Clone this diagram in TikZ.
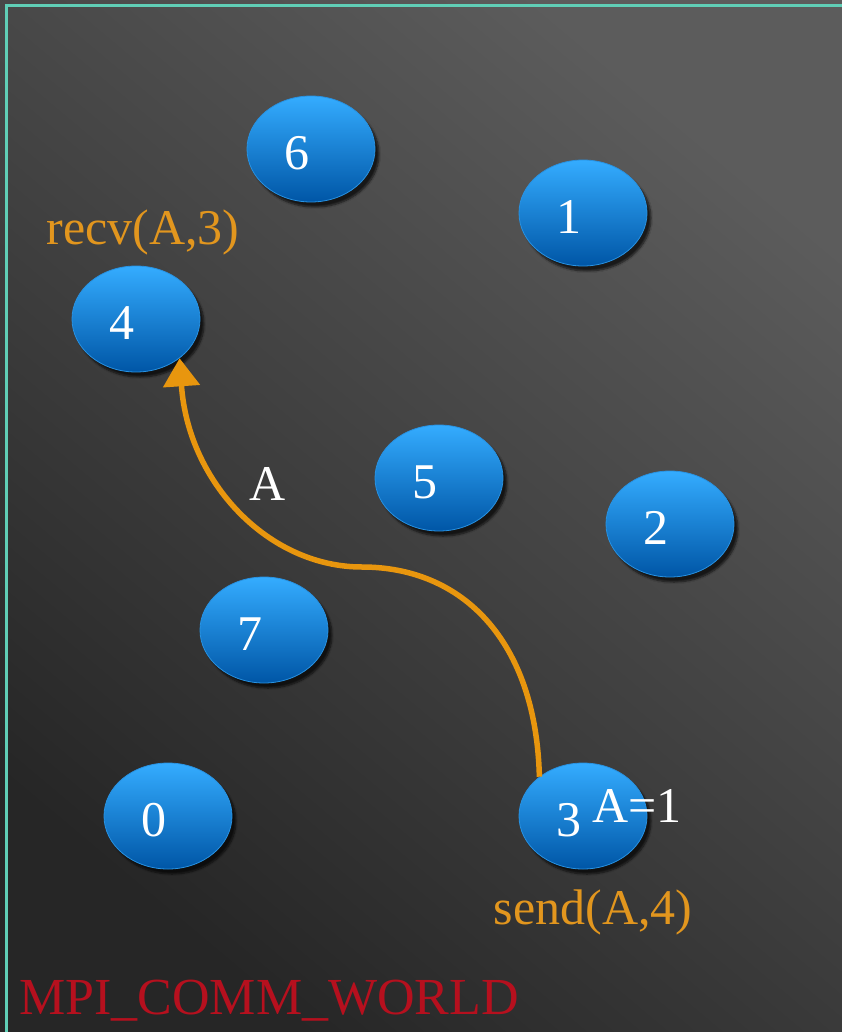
\documentclass[tikz,border=0pt]{standalone}
\usepackage{fontspec}
\setmainfont{Liberation Serif}
\usepackage{tikz}
\usetikzlibrary{positioning, calc, arrows.meta, shapes.geometric, shadows.blur}

\definecolor{bgDark}{RGB}{38,38,38}
\definecolor{bgLight}{RGB}{92,92,92}
\definecolor{frameTeal}{RGB}{96,206,182}
\definecolor{procTop}{RGB}{52,172,255}
\definecolor{procMid}{RGB}{4,136,230}
\definecolor{procBot}{RGB}{0,86,166}
\definecolor{procRim}{RGB}{40,146,226}
\definecolor{msgOrange}{RGB}{232,150,14}
\definecolor{callOrange}{RGB}{226,150,30}
\definecolor{worldRed}{RGB}{182,16,30}

\newcommand{\bigtxt}{\fontsize{50}{58}\selectfont}

\begin{document}
\begin{tikzpicture}[x=1pt, y=-1pt,
    proc/.style={ellipse, minimum width=128pt, minimum height=106pt, inner sep=0pt,
      top color=procTop, middle color=procMid, bottom color=procBot,
      draw=procRim, line width=0.8pt,
      blur shadow={shadow xshift=4pt, shadow yshift=-5pt, shadow opacity=70, shadow blur steps=8}},
    rank/.style={text=white, font=\bigtxt, inner sep=0pt},
    call/.style={text=callOrange, font=\bigtxt, inner sep=0pt},
    msg/.style={draw=msgOrange, line width=5.5pt, -{Triangle[width=36pt, length=28pt]}}]
      % \fill[black] (0,0) rectangle (842,1032);
      \useasboundingbox (0,0) rectangle (842,1032);
      \shade[top color=bgLight, bottom color=bgDark, shading angle=-40] (0,0) rectangle (842,1032);
      \draw[frameTeal, line width=2.5pt] (6.5,1040) |- (850,5.5);   %frame

      \foreach \r/\x/\y in {6/311/149, 1/583/213, 4/136/319, 5/439/478,
                            2/670/524, 7/264/630, 0/168/816, 3/583/816}
        \node[proc, label={[rank, xshift=-14pt, yshift=-4pt]center:\r}] (p\r) at (\x,\y) {};

      \coordinate (bend) at (362,567);

      \node[call] (recv) at (143,232) {recv(A,3)};
      \node[call] (send) at (593,912) {send(A,4)};
      \node[rank] (data) at (268,484) {A};
      \node[rank] (val)  at (637,806) {A=1};
      \node[font=\fontsize{52}{60}\selectfont, text=worldRed, inner sep=0pt] (world) at (269,1001) {MPI\_COMM\_WORLD};

      \draw[msg] (p3.138) .. controls (536,640) and (462,567) .. (bend)
                          .. controls (268,567) and (188,482) .. (p4.-42);
    \end{tikzpicture}
\end{document}
